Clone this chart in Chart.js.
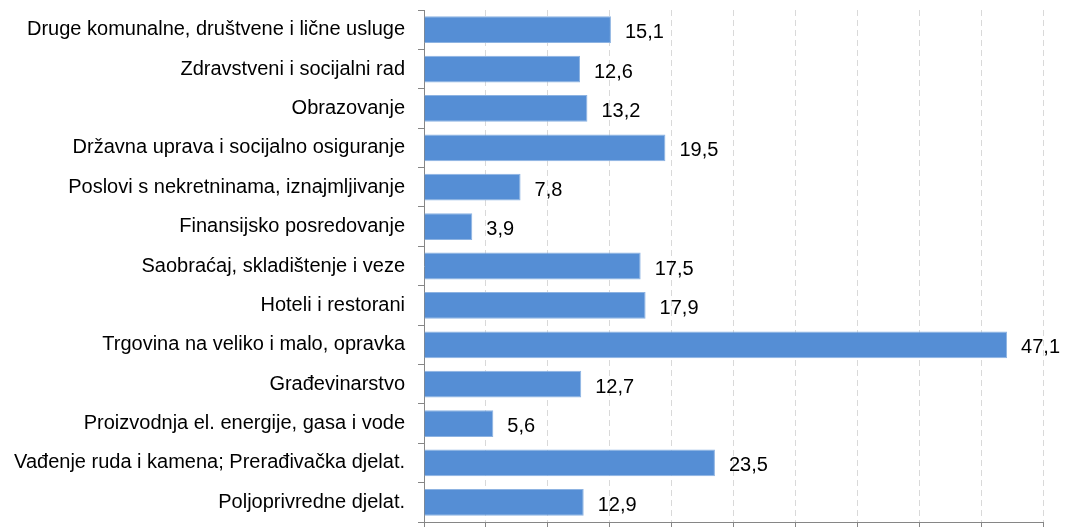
<!DOCTYPE html>
<html>
<head>
<meta charset="utf-8">
<script src="https://cdn.jsdelivr.net/npm/chart.js@4.4.0/dist/chart.umd.min.js"></script>
<style>
    html, body { margin: 0; padding: 0; background: #fff; }
    #wrap { width: 1067px; height: 527px; }
</style>
</head>
<body>
<div id="wrap"><canvas id="barChart"></canvas></div>
<script>
const categories = [
    'Druge komunalne, društvene i lične usluge',
    'Zdravstveni i socijalni rad',
    'Obrazovanje',
    'Državna uprava i socijalno osiguranje',
    'Poslovi s nekretninama, iznajmljivanje',
    'Finansijsko posredovanje',
    'Saobraćaj, skladištenje i veze',
    'Hoteli i restorani',
    'Trgovina na veliko i malo, opravka',
    'Građevinarstvo',
    'Proizvodnja el. energije, gasa i vode',
    'Vađenje ruda i kamena; Prerađivačka djelat.',
    'Poljoprivredne djelat.',
];
const values = [15.1, 12.6, 13.2, 19.5, 7.8, 3.9, 17.5, 17.9, 47.1, 12.7, 5.6, 23.5, 12.9];
const xMin = 0;
const xMax = 50;
const xStep = 5;

const fontFamily = '"Liberation Sans", Arial, sans-serif';

const valueLabels = {
    id: 'valueLabels',
    afterDatasetsDraw(chart) {
        const { ctx } = chart;
        const meta = chart.getDatasetMeta(0);
        ctx.save();
        ctx.font = '20px ' + fontFamily;
        ctx.fillStyle = '#000';
        ctx.textAlign = 'left';
        ctx.textBaseline = 'middle';
        meta.data.forEach((bar, i) => {
            const text = values[i].toFixed(1).replace('.', ',');
            ctx.fillText(text, bar.x + 14, bar.y + 3);
        });
        ctx.restore();
    },
};

new Chart(document.getElementById('barChart'), {
    type: 'bar',
    data: {
        labels: categories,
        datasets: [
            {
                data: values,
                backgroundColor: '#558ed5',
                borderColor: '#8db3e2',
                borderWidth: 1,
                borderSkipped: 'start',
                categoryPercentage: 1,
                barPercentage: 0.68,
            },
        ],
    },
    options: {
        indexAxis: 'y',
        responsive: true,
        maintainAspectRatio: false,
        animation: false,
        layout: {
            padding: { top: 10, right: 24, bottom: 0, left: 0 },
        },
        plugins: {
            legend: { display: false },
            tooltip: { enabled: false },
        },
        scales: {
            x: {
                min: xMin,
                max: xMax,
                afterFit(scale) {
                    scale.paddingLeft = 0;
                    scale.paddingRight = 0;
                },
                ticks: { stepSize: xStep, display: false },
                grid: {
                    color: '#d9d9d9',
                    lineWidth: 1,
                    tickLength: 5,
                    tickColor: '#868686',
                    tickBorderDash: [],
                },
                border: { color: '#868686', width: 1, dash: [6, 4] },
            },
            y: {
                afterFit(scale) {
                    scale.width = 424;
                    scale.paddingTop = 0;
                    scale.paddingBottom = 0;
                },
                ticks: {
                    color: '#000',
                    font: { family: fontFamily, size: 20 },
                    padding: 13,
                },
                grid: {
                    drawOnChartArea: false,
                    tickLength: 6,
                    tickColor: '#868686',
                },
                border: { color: '#868686', width: 1 },
            },
        },
    },
    plugins: [valueLabels],
});
</script>
</body>
</html>
